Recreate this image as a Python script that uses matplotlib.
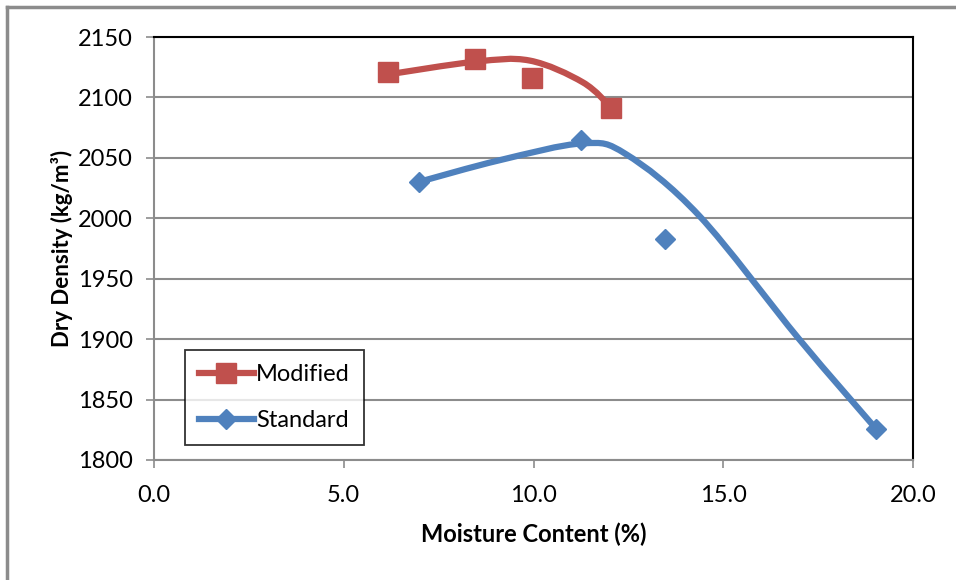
import numpy as np
import matplotlib
matplotlib.use("Agg")
from matplotlib import pyplot as plt
from matplotlib.path import Path
from matplotlib.patches import PathPatch
from matplotlib.lines import Line2D

plt.rcParams['font.family'] = ['Lato', 'DejaVu Sans']

# measured points
mod_x = [6.16, 8.45, 9.97, 12.05]
mod_y = [2121, 2132, 2116, 2091]
std_x = [6.97, 11.24, 13.47, 19.02]
std_y = [2030, 2065, 1983, 1826]

# smooth fitted curves (knots)
mod_curve_x = [6.16, 8.45, 9.9, 11.3, 12.07]
mod_curve_y = [2119, 2129.5, 2130.5, 2112.5, 2091]
std_curve_x = [6.97, 9.1, 11.3, 12.44, 14.37, 17.0, 19.02]
std_curve_y = [2030, 2048, 2062, 2053, 2002, 1900, 1826]

RED = '#C0504D'
BLUE = '#4F81BD'
GRID = '#8C8C8C'


def smooth_path(xs, ys, ax, tension=1/6.0):
    """Excel style bezier smoothing, done in display space"""
    pts = ax.transData.transform(np.column_stack([xs, ys]))
    n = len(pts)
    verts = [pts[0]]
    codes = [Path.MOVETO]
    for i in range(n - 1):
        p0 = pts[i - 1] if i > 0 else pts[i]
        p1 = pts[i]
        p2 = pts[i + 1]
        p3 = pts[i + 2] if i + 2 < n else pts[i + 1]
        c1 = p1 + (p2 - p0) * tension
        c2 = p2 - (p3 - p1) * tension
        verts += [c1, c2, p2]
        codes += [Path.CURVE4] * 3
    return Path(verts, codes)


fig = plt.figure(figsize=(9.56, 5.8), dpi=100)
ax = fig.add_axes([154/956, 1 - 460/580, (913 - 154)/956, (460 - 37)/580])

ax.set_xlim(0, 20)
ax.set_ylim(1800, 2150)
ax.set_xticks(np.arange(0, 20.1, 5))
ax.set_xticklabels(['%.1f' % v for v in np.arange(0, 20.1, 5)])
ax.set_yticks(np.arange(1800, 2151, 50))
ax.yaxis.grid(True, color=GRID, linewidth=1.5)
ax.set_axisbelow(True)

for s in ['top', 'right']:
    ax.spines[s].set_color('black')
    ax.spines[s].set_linewidth(1.5)
for s in ['left', 'bottom']:
    ax.spines[s].set_color(GRID)
    ax.spines[s].set_linewidth(1.5)
ax.tick_params(axis='both', direction='out', length=6, width=1.2, color=GRID,
               labelsize=17, pad=9)
ax.tick_params(axis='x', pad=12)

ax.set_xlabel('Moisture Content (%)', fontsize=17, fontweight='bold', labelpad=12)
ax.set_ylabel('Dry Density (kg/m³)', fontsize=16, fontweight='bold', labelpad=4)

fig.canvas.draw()
for cx, cy, col in [(mod_curve_x, mod_curve_y, RED), (std_curve_x, std_curve_y, BLUE)]:
    p = smooth_path(cx, cy, ax)
    patch = PathPatch(p, facecolor='none', edgecolor=col, linewidth=4.5,
                      transform=None, zorder=3, capstyle='round')
    patch.set_clip_path(ax.patch)
    fig.add_artist(patch)

ax.plot(mod_x, mod_y, linestyle='none', marker='s', markersize=14,
        color=RED, zorder=4, clip_on=False)
ax.plot(std_x, std_y, linestyle='none', marker='D', markersize=10,
        color=BLUE, zorder=4, clip_on=False)

handles = [Line2D([], [], color=RED, lw=4.5, marker='s', markersize=14),
           Line2D([], [], color=BLUE, lw=4.5, marker='D', markersize=10)]
leg = ax.legend(handles, ['Modified', 'Standard'], loc='lower left',
                bbox_to_anchor=(0.041, 0.035), fontsize=17, frameon=True,
                fancybox=False, handlelength=2.3, handletextpad=0.1,
                labelspacing=1.05, borderpad=0.6, borderaxespad=0)
leg.get_frame().set_edgecolor('black')
leg.get_frame().set_linewidth(1.3)

# outer chart border
fig.add_artist(Line2D([7/956, 7/956], [0, 1 - 7/580], color=GRID, lw=2.5,
                      transform=fig.transFigure))
fig.add_artist(Line2D([7/956, 1], [1 - 7/580, 1 - 7/580], color=GRID, lw=2.5,
                      transform=fig.transFigure))

fig.savefig('out.png', dpi=100)
